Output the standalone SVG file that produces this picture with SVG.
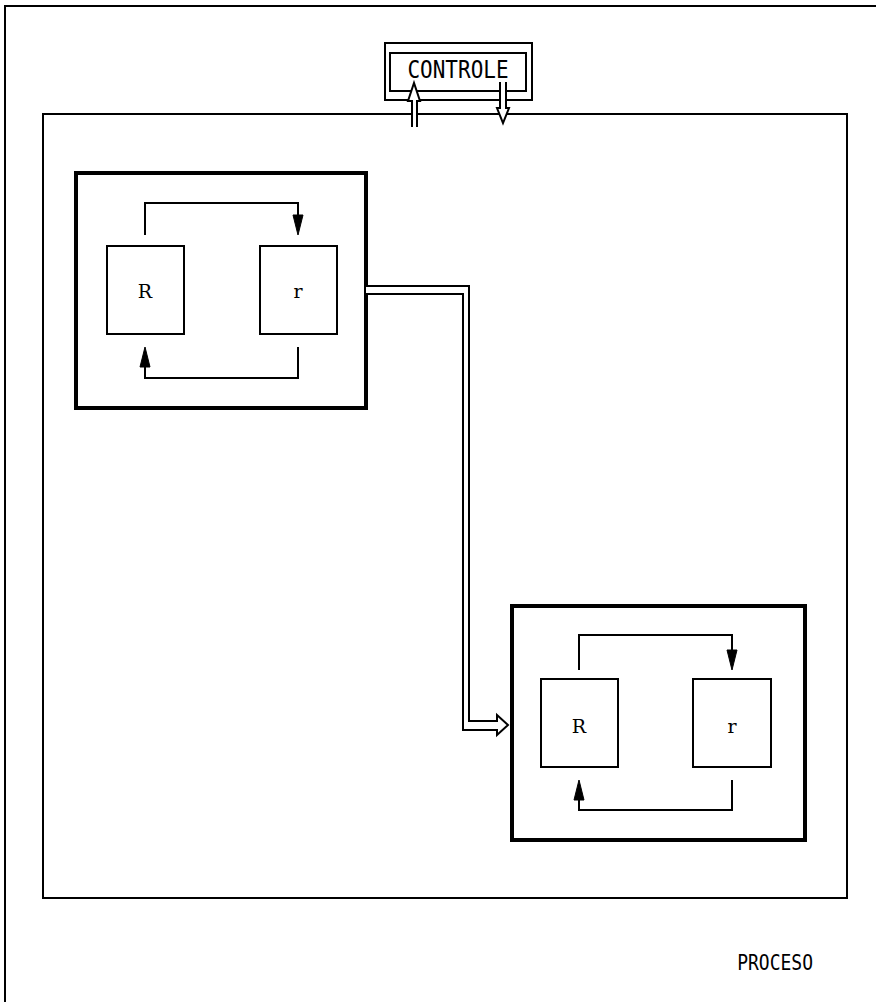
<svg xmlns="http://www.w3.org/2000/svg" width="876" height="1002" viewBox="0 0 876 1002">
<style>
.thin{fill:none;stroke:#000;stroke-width:2}
.box{fill:#fff;stroke:#000;stroke-width:2}
.thick{fill:#fff;stroke:#000;stroke-width:4}
.hollow{fill:#fff;stroke:#000;stroke-width:2;stroke-linejoin:miter}
.head{fill:#000;stroke:#000;stroke-width:1}
.lbl{font-family:"DejaVu Serif","Liberation Serif",serif;font-size:19px;fill:#000;text-anchor:middle}
.cap{font-family:"DejaVu Sans Mono",monospace;fill:#000}
</style>
<rect width="876" height="1002" fill="#fff"/>
<g id="outer-frame">
<path class="thin" d="M5,1002 V6 H876" stroke-width="2.5"/>
</g>
<g id="proceso">
<rect class="thin" x="43" y="114" width="804" height="784" stroke-width="2.5"/>
<text class="cap" font-size="18" text-anchor="end" transform="translate(813,970) scale(1,1.2)">PROCESO</text>
</g>
<g id="controle">
<rect class="box" x="385" y="43" width="147" height="57"/>
<rect class="thin" x="390" y="53" width="136" height="38"/>
<text class="cap" font-size="21" text-anchor="middle" transform="translate(458,78) scale(1,1.15)">CONTROLE</text>
</g>
<g id="block1">
<rect class="thick" x="76" y="173" width="290" height="235"/>
<g id="block1-R"><rect class="box" x="107" y="246" width="77" height="88"/><text class="lbl" x="145" y="298">R</text></g>
<g id="block1-r"><rect class="box" x="260" y="246" width="77" height="88"/><text class="lbl" x="298" y="298">r</text></g>
</g>
<g id="block2">
<rect class="thick" x="512" y="606" width="293" height="234"/>
<g id="block2-R"><rect class="box" x="541" y="679" width="77" height="88"/><text class="lbl" x="579" y="733">R</text></g>
<g id="block2-r"><rect class="box" x="693" y="679" width="78" height="88"/><text class="lbl" x="732" y="733">r</text></g>
</g>
<g id="connectors">
<path class="hollow" d="M412,127 V101 H408 L414,83 L420,101 H417 V127"/>
<path class="hollow" d="M500,82 V108 H497 L503,123 L509,108 H506 V82"/>
<path class="hollow" d="M366,286 H469 V721 H497 V715 L508,725 L497,735 V730 H463 V294 H366"/>
<path class="thin" d="M145,235 V203 H298 V225"/>
<polygon class="head" points="293,215 303,215 298,235"/>
<path class="thin" d="M298,347 V378 H145 V367"/>
<polygon class="head" points="140,367 150,367 145,347"/>
<path class="thin" d="M579,670 V635 H732 V650"/>
<polygon class="head" points="727,650 737,650 732,670"/>
<path class="thin" d="M732,780 V810 H579 V800"/>
<polygon class="head" points="574,800 584,800 579,780"/>
</g>
</svg>
